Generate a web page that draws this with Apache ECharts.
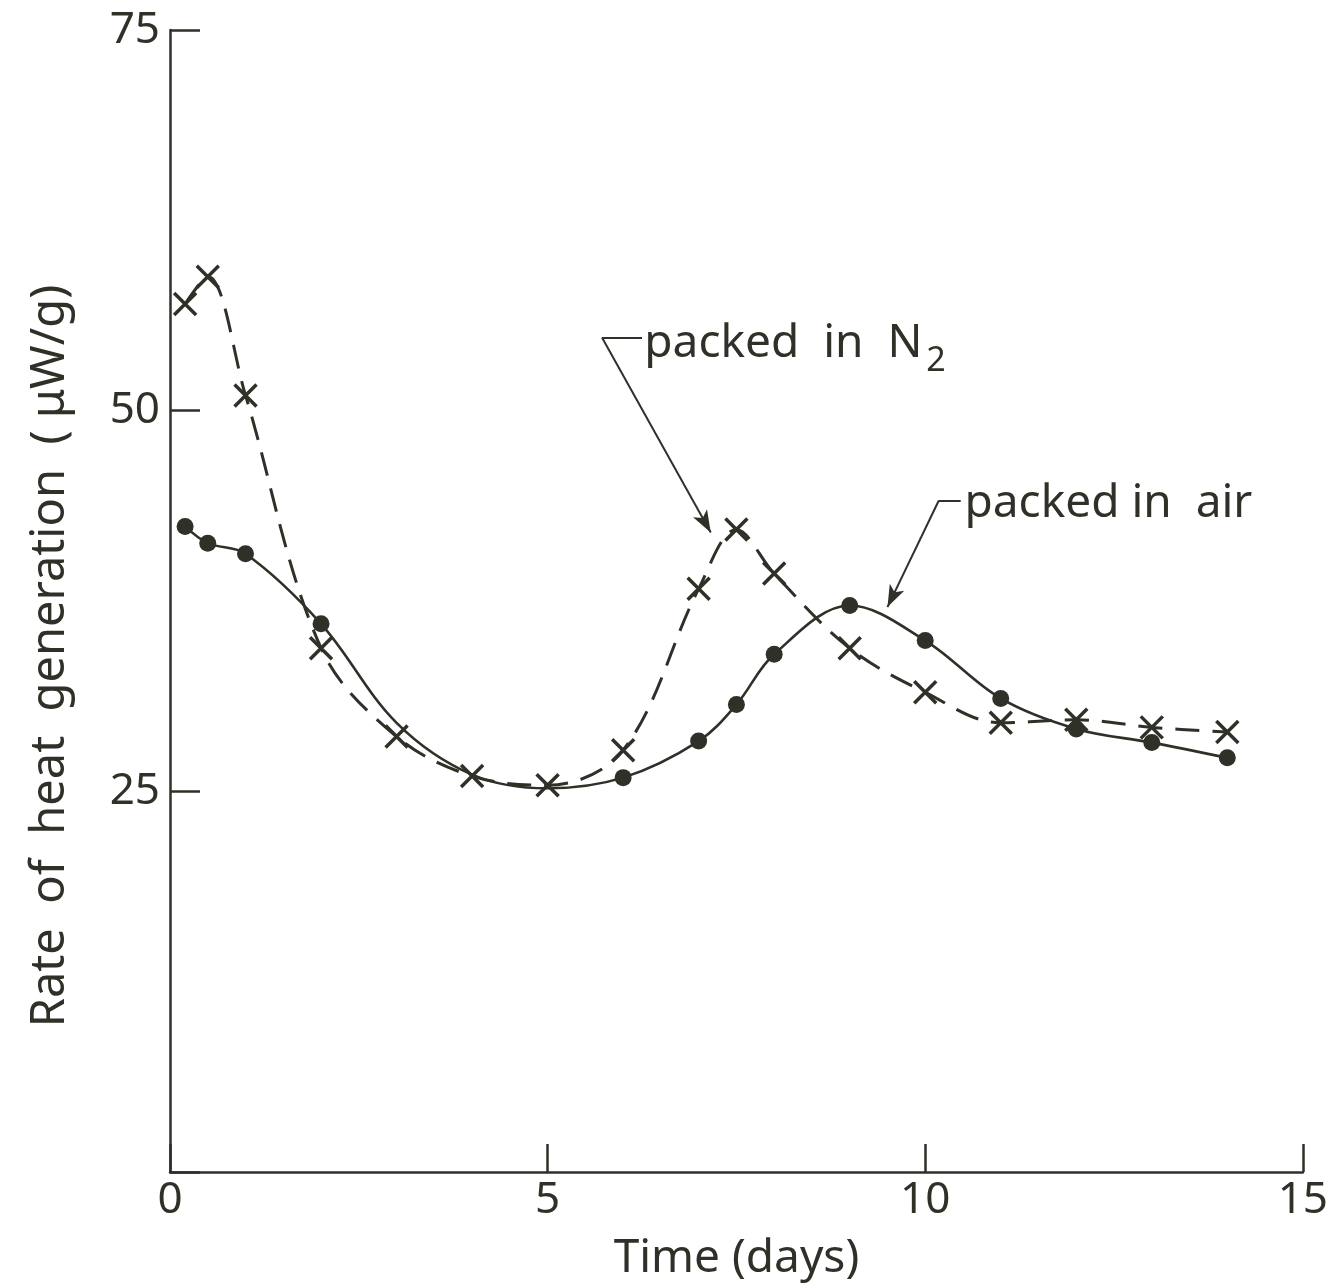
<!DOCTYPE html>
<html>
<head>
<meta charset="utf-8">
<script src="https://cdn.jsdelivr.net/npm/echarts@6/dist/echarts.min.js"></script>
<style>
  html, body { margin: 0; padding: 0; background: #fff; }
  #chart { width: 1331px; height: 1288px; }
</style>
</head>
<body>
<div id="chart"></div>
<script>
// packed in N2 (crosses, dashed)
const n2X = [0.2, 0.5, 1, 2, 3, 4, 5, 6, 7, 7.5, 8, 9, 10, 11, 12, 13, 14]
const n2Y = [57.0, 58.8, 51.0, 34.4, 28.6, 26.0, 25.4, 27.7, 38.3, 42.2, 39.3, 34.4, 31.5, 29.5, 29.7, 29.2, 28.9]

// packed in air (dots, solid) - points at 3, 4, 5 are read off the curve, no marker
const airX = [0.2, 0.5, 1, 2, 3, 4, 5, 6, 7, 7.5, 8, 9, 10, 11, 12, 13, 14]
const airY = [42.4, 41.3, 40.6, 36.0, 29.5, 26.1, 25.2, 25.9, 28.3, 30.7, 34.0, 37.2, 34.9, 31.1, 29.1, 28.2, 27.2]
const airMarked = [1, 1, 1, 1, 0, 0, 0, 1, 1, 1, 1, 1, 1, 1, 1, 1, 1]

const xTicks = [0, 5, 10, 15]
const yTicks = [25, 50, 75]

const ink = '#2f3128'
const font = 'Noto Sans'

const chart = echarts.init(document.getElementById('chart'))

chart.setOption({
  animation: false,
  backgroundColor: '#ffffff',
  grid: { left: 170, right: 26, top: 30, bottom: 116 },
  xAxis: {
    type: 'value',
    min: 0,
    max: 15,
    interval: 5,
    splitLine: { show: false },
    axisLine: { lineStyle: { color: ink, width: 2.5 } },
    axisTick: { inside: true, length: 28, lineStyle: { color: ink, width: 2.5 } },
    axisLabel: {
      color: ink, fontSize: 44, fontFamily: font, margin: 6,
      formatter: v => (xTicks.indexOf(v) >= 0 ? String(v) : '')
    },
    name: 'Time (days)',
    nameLocation: 'middle',
    nameGap: 64,
    nameTextStyle: { color: ink, fontSize: 46, fontFamily: font }
  },
  yAxis: {
    type: 'value',
    min: 0,
    max: 75,
    interval: 25,
    splitLine: { show: false },
    axisLine: { lineStyle: { color: ink, width: 2.5 } },
    axisTick: { inside: true, length: 30, lineStyle: { color: ink, width: 2.5 } },
    axisLabel: {
      color: ink, fontSize: 44, fontFamily: font, margin: 10,
      formatter: v => (yTicks.indexOf(v) >= 0 ? String(v) : '')
    },
    name: 'Rate  of  heat  generation  ( \u03bcW/g)',
    nameLocation: 'middle',
    nameGap: 96,
    nameTextStyle: { color: ink, fontSize: 47, fontFamily: font, padding: [0, 110, 0, 0] }
  },
  series: [
    {
      name: 'packed in N2',
      type: 'line',
      smooth: 0.35,
      data: n2X.map((x, i) => [x, n2Y[i]]),
      symbol: 'path://M0,0L10,10M10,0L0,10',
      symbolSize: 22,
      itemStyle: { color: 'rgba(0,0,0,0)', borderColor: ink, borderWidth: 3.5 },
      lineStyle: { color: ink, width: 3, type: [24, 13] },
      z: 3,
      markLine: {
        silent: true,
        symbol: ['none', 'none'],
        label: { show: false },
        lineStyle: { color: ink, width: 2, type: 'solid' },
        data: [
          [{ coord: [5.72, 54.8] }, { coord: [6.25, 54.8] }],
          [{ coord: [5.72, 54.8] }, { coord: [7.16, 42.0], symbol: 'arrow', symbolSize: [12, 22] }],
          [{ coord: [10.18, 44.1] }, { coord: [10.47, 44.1] }],
          [{ coord: [10.18, 44.1] }, { coord: [9.5, 37.1], symbol: 'arrow', symbolSize: [12, 22] }]
        ]
      },
      markPoint: {
        silent: true,
        symbol: 'circle',
        symbolSize: 0,
        data: [
          {
            coord: [6.28, 54.4],
            label: {
              show: true, position: 'right', distance: 0,
              formatter: 'packed  in  {n|N}{s|2}',
              color: ink, fontSize: 46, fontFamily: font,
              rich: {
                n: { color: ink, fontSize: 46, fontFamily: font },
                s: { color: ink, fontSize: 34, fontFamily: font, padding: [36, 0, 0, 4] }
              }
            }
          },
          {
            coord: [10.52, 43.9],
            label: {
              show: true, position: 'right', distance: 0,
              formatter: 'packed in  air',
              color: ink, fontSize: 46, fontFamily: font
            }
          }
        ]
      }
    },
    {
      name: 'packed in air',
      type: 'line',
      smooth: 0.35,
      data: airX.map((x, i) => ({
        value: [x, airY[i]],
        symbol: airMarked[i] ? 'circle' : 'none'
      })),
      symbolSize: 17,
      itemStyle: { color: ink },
      lineStyle: { color: ink, width: 2.6 },
      z: 4
    }
  ]
})
</script>
</body>
</html>
